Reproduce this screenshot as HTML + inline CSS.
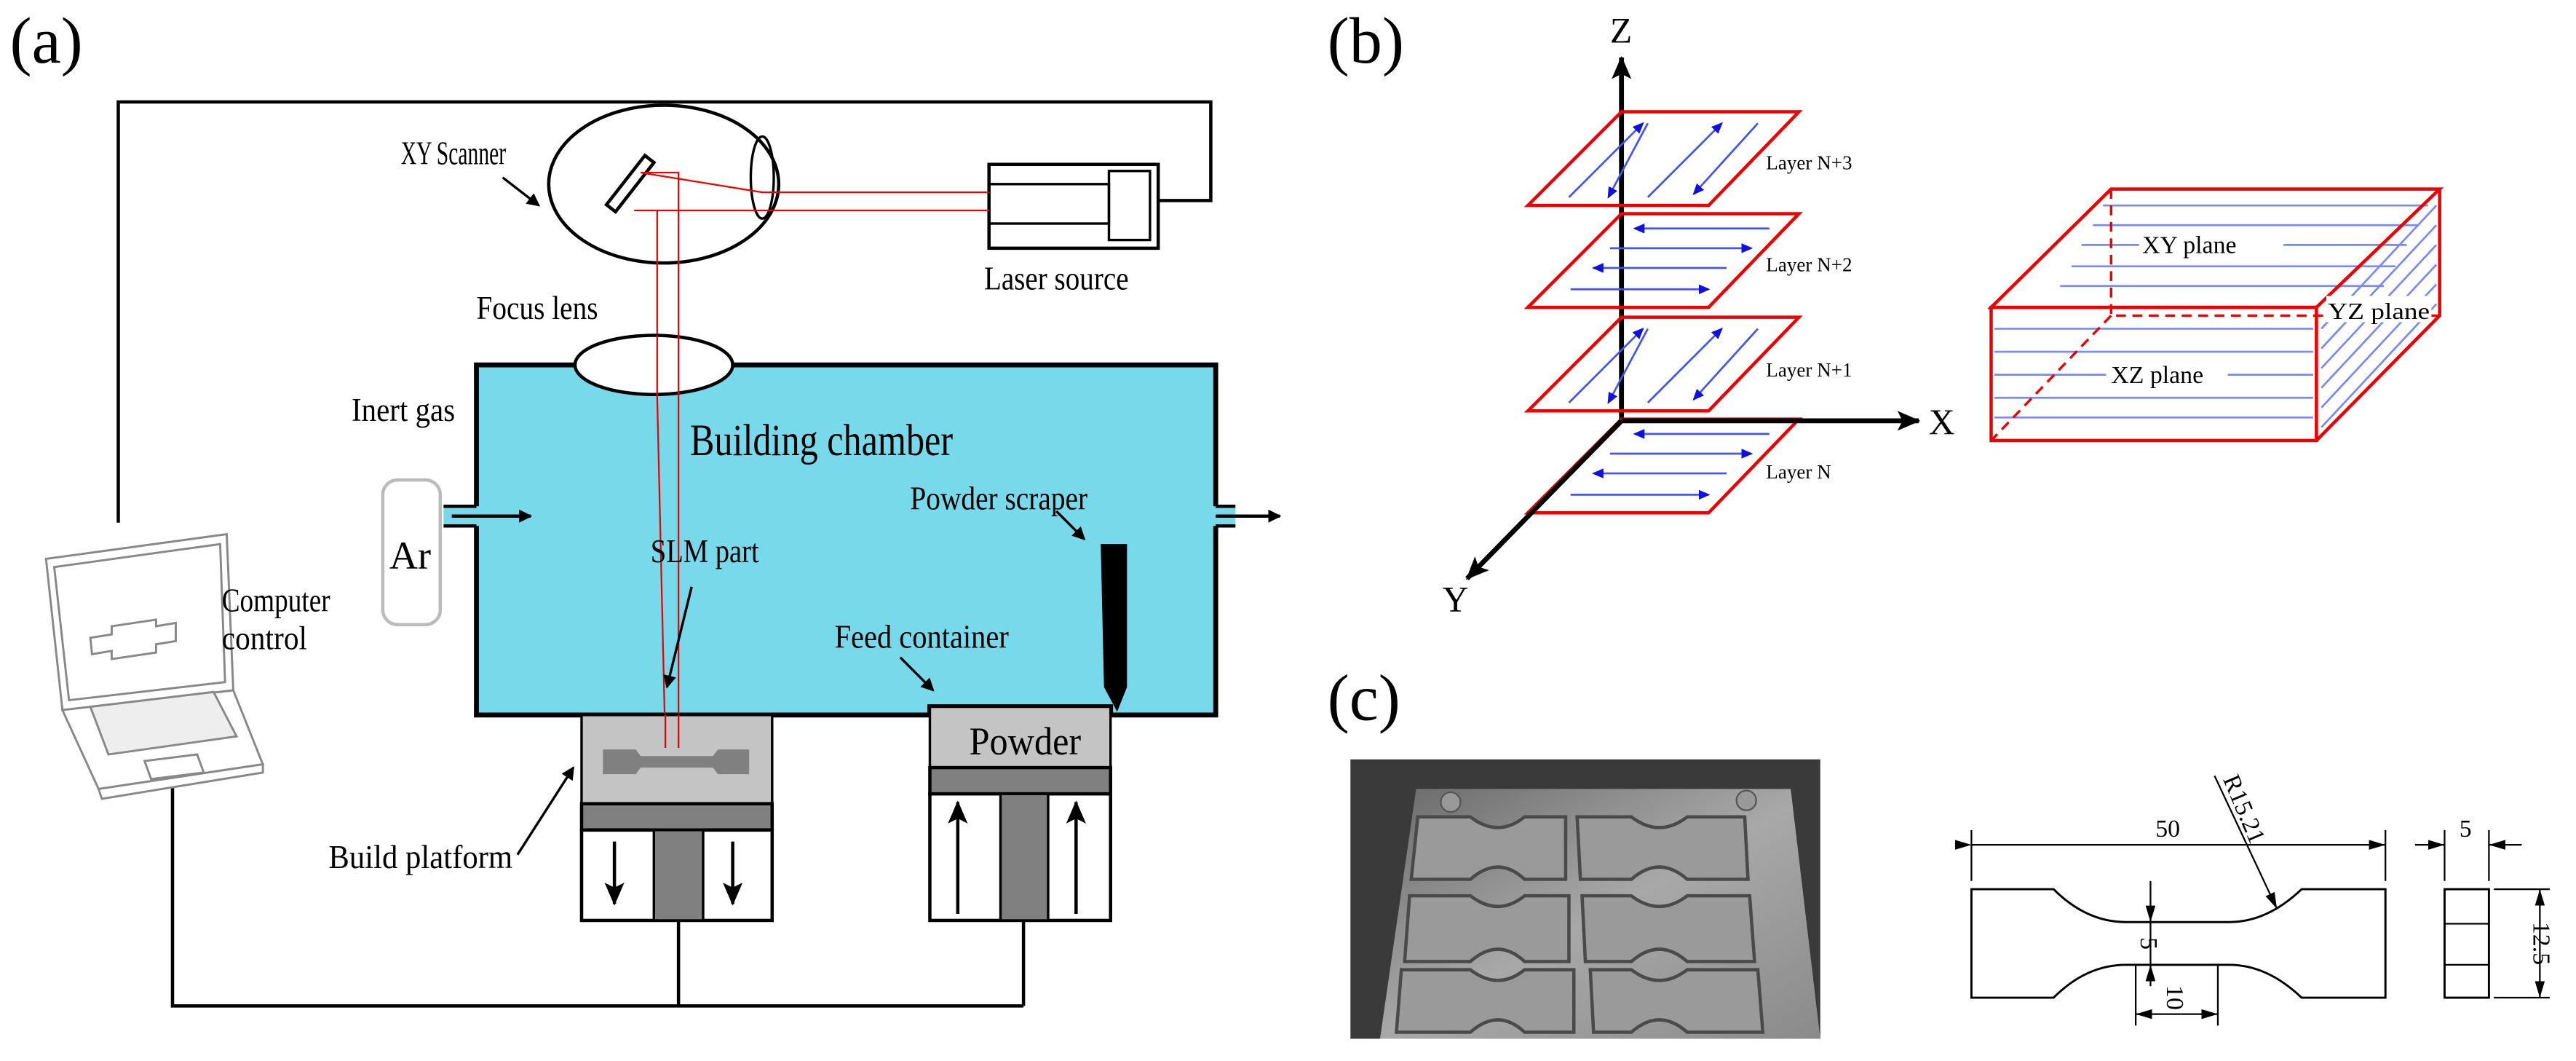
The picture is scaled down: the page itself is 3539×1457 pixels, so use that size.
<!DOCTYPE html>
<html><head><meta charset="utf-8"><style>
html,body{margin:0;padding:0;background:#fff;overflow:hidden}
svg{display:block}
text{font-family:"Liberation Serif",serif}
</style></head><body>
<svg width="3539" height="1457" viewBox="0 0 1568 645.5" xmlns="http://www.w3.org/2000/svg">
<defs>
<marker id="ab" markerWidth="8" markerHeight="8" refX="7" refY="4" orient="auto" markerUnits="userSpaceOnUse"><path d="M0,0 L8,4 L0,8 Z" fill="#000"/></marker>
<marker id="abl" markerWidth="14" markerHeight="12" refX="13" refY="6" orient="auto" markerUnits="userSpaceOnUse"><path d="M0,0 L14,6 L0,12 L3,6 Z" fill="#000"/></marker>
<marker id="bl" markerWidth="7" markerHeight="6" refX="6" refY="3" orient="auto" markerUnits="userSpaceOnUse"><path d="M0,0 L7,3 L0,6 Z" fill="#1010e0"/></marker>
<marker id="dm" markerWidth="10" markerHeight="6" refX="10" refY="3" orient="auto" markerUnits="userSpaceOnUse"><path d="M0,0 L10,3 L0,6 Z" fill="#000"/></marker>
<linearGradient id="ph" x1="0" y1="0" x2="1" y2="1"><stop offset="0" stop-color="#6a6a6a"/><stop offset="0.5" stop-color="#a8a8a8"/><stop offset="1" stop-color="#8a8a8a"/></linearGradient>
</defs>
<!-- (a) -->
<text x="6" y="38" font-size="40">(a)</text>
<polyline points="72,318 72,62 737,62 737,122 705,122" fill="none" stroke="#000" stroke-width="2"/>
<polyline points="105,445 105,612 623,612" fill="none" stroke="#000" stroke-width="2"/>
<line x1="413" y1="560" x2="413" y2="612" stroke="#000" stroke-width="2"/>
<line x1="623" y1="560" x2="623" y2="612" stroke="#000" stroke-width="2"/>
<ellipse cx="404" cy="112" rx="70" ry="48" fill="none" stroke="#000" stroke-width="2"/>
<rect x="380" y="93" width="7" height="38" fill="#fff" stroke="#000" stroke-width="2" transform="rotate(38 384 112)"/>
<ellipse cx="464" cy="108" rx="7" ry="25" fill="none" stroke="#000" stroke-width="1.5"/>
<rect x="602" y="100" width="103" height="51" fill="none" stroke="#000" stroke-width="2"/>
<rect x="602" y="112" width="73" height="24" fill="none" stroke="#000" stroke-width="1.5"/>
<rect x="675" y="104" width="25" height="42" fill="none" stroke="#000" stroke-width="1.5"/>
<g stroke="#e00" stroke-width="1" fill="none">
<polyline points="602,117 464,117 390,105 413,105 413,222"/>
<polyline points="602,128 464,128 386,128 400,128 400,222"/>
</g>
<text x="244" y="100" font-size="20" textLength="64" lengthAdjust="spacingAndGlyphs">XY Scanner</text>
<line x1="306" y1="108" x2="328" y2="125" stroke="#000" stroke-width="1.5" marker-end="url(#ab)"/>
<text x="599" y="176" font-size="20" textLength="88" lengthAdjust="spacingAndGlyphs">Laser source</text>
<text x="290" y="194" font-size="20" textLength="74" lengthAdjust="spacingAndGlyphs">Focus lens</text>
<path d="M290,222 L740,222 L740,435 L676,435 L676,430 L566,430 L566,435 L470,435 L354,435 L290,435 Z" fill="#77d9ea" stroke="#000" stroke-width="3"/>
<rect x="270" y="308" width="22" height="12" fill="#77d9ea"/>
<line x1="270" y1="308" x2="290" y2="308" stroke="#000" stroke-width="2"/>
<line x1="270" y1="320" x2="290" y2="320" stroke="#000" stroke-width="2"/>
<rect x="738" y="308" width="14" height="12" fill="#77d9ea"/>
<line x1="740" y1="308" x2="752" y2="308" stroke="#000" stroke-width="2"/>
<line x1="740" y1="320" x2="752" y2="320" stroke="#000" stroke-width="2"/>
<ellipse cx="398" cy="222" rx="48" ry="18" fill="#fff" stroke="#000" stroke-width="2"/>
<g stroke="#e00" stroke-width="1"><line x1="400" y1="204" x2="400" y2="240"/><line x1="413" y1="204" x2="413" y2="240"/>
<line x1="400" y1="240" x2="405" y2="454"/><line x1="413" y1="240" x2="413" y2="452"/></g>
<text x="420" y="277" font-size="27" textLength="160" lengthAdjust="spacingAndGlyphs">Building chamber</text>
<text x="214" y="256" font-size="20" textLength="63" lengthAdjust="spacingAndGlyphs">Inert gas</text>
<rect x="233" y="292" width="35" height="88" rx="9" fill="#fff" stroke="#bbb" stroke-width="2"/>
<text x="237" y="346" font-size="24">Ar</text>
<line x1="275" y1="314" x2="323" y2="314" stroke="#000" stroke-width="2" marker-end="url(#ab)"/>
<line x1="740" y1="314" x2="779" y2="314" stroke="#000" stroke-width="2" marker-end="url(#ab)"/>
<text x="554" y="310" font-size="20" textLength="108" lengthAdjust="spacingAndGlyphs">Powder scraper</text>
<line x1="643" y1="311" x2="660" y2="328" stroke="#000" stroke-width="1.5" marker-end="url(#ab)"/>
<path d="M670,331 L686,331 L686,418 L680,433 L672,418 Z" fill="#000"/>
<text x="396" y="342" font-size="20" textLength="66" lengthAdjust="spacingAndGlyphs">SLM part</text>
<line x1="421" y1="357" x2="406" y2="418" stroke="#000" stroke-width="1.5" marker-end="url(#ab)"/>
<text x="508" y="394" font-size="20" textLength="106" lengthAdjust="spacingAndGlyphs">Feed container</text>
<line x1="548" y1="400" x2="568" y2="420" stroke="#000" stroke-width="1.5" marker-end="url(#ab)"/>
<rect x="354" y="435" width="116" height="54" fill="#c4c4c4" stroke="#000" stroke-width="1.5"/>
<g stroke="#e00" stroke-width="1"><line x1="405" y1="435" x2="405" y2="455"/><line x1="413" y1="435" x2="413" y2="455"/></g>
<path d="M367,456 L387,456 L390,460 L434,460 L437,456 L456,456 L456,471 L437,471 L434,467 L390,467 L387,471 L367,471 Z" fill="#808080"/>
<rect x="354" y="489" width="116" height="16" fill="#808080" stroke="#000" stroke-width="2"/>
<rect x="354" y="505" width="116" height="55" fill="#fff" stroke="#000" stroke-width="2"/>
<rect x="398" y="505" width="30" height="55" fill="#808080" stroke="#000" stroke-width="1.5"/>
<line x1="374" y1="512" x2="374" y2="550" stroke="#000" stroke-width="2" marker-end="url(#abl)"/>
<line x1="446" y1="512" x2="446" y2="550" stroke="#000" stroke-width="2" marker-end="url(#abl)"/>
<text x="200" y="528" font-size="20" textLength="112" lengthAdjust="spacingAndGlyphs">Build platform</text>
<line x1="315" y1="520" x2="349" y2="467" stroke="#000" stroke-width="1.5" marker-end="url(#ab)"/>
<rect x="566" y="430" width="110" height="37" fill="#c4c4c4" stroke="#000" stroke-width="1.5"/>
<text x="590" y="459" font-size="24" textLength="68" lengthAdjust="spacingAndGlyphs">Powder</text>
<rect x="566" y="467" width="110" height="16" fill="#808080" stroke="#000" stroke-width="2"/>
<rect x="566" y="483" width="110" height="77" fill="#fff" stroke="#000" stroke-width="2"/>
<rect x="609" y="483" width="29" height="77" fill="#808080" stroke="#000" stroke-width="1.5"/>
<line x1="583" y1="556" x2="583" y2="488" stroke="#000" stroke-width="2" marker-end="url(#abl)"/>
<line x1="655" y1="556" x2="655" y2="488" stroke="#000" stroke-width="2" marker-end="url(#abl)"/>
<g fill="#fff" stroke="#888" stroke-width="1.3">
<path d="M28,340 L138,325 L142,420 L38,432 Z"/>
<path d="M33,345 L134,331 L137,415 L42,426 Z"/>
<path d="M38,432 L142,420 L160,465 L60,480 Z"/>
<path d="M60,480 L160,465 L160,470 L62,486 Z"/>
<path d="M55,430 L130,421 L144,448 L66,459 Z" fill="#eee"/>
<path d="M88,463 L120,459 L124,470 L92,474 Z"/>
<path d="M55,388 L68,386 L68,381 L95,377 L95,381 L107,379 L107,390 L95,392 L95,397 L68,401 L68,396 L56,398 Z"/>
</g>
<text x="135" y="372" font-size="20" textLength="66" lengthAdjust="spacingAndGlyphs">Computer</text>
<text x="135" y="395" font-size="20" textLength="52" lengthAdjust="spacingAndGlyphs">control</text>

<!-- (b) -->
<text x="808" y="38" font-size="40">(b)</text>
<text x="980" y="26" font-size="22">Z</text>
<line x1="987" y1="256" x2="987" y2="35" stroke="#000" stroke-width="3" marker-end="url(#abl)"/>
<g fill="none" stroke="#e00" stroke-width="2">
<polygon points="930,125 987,68 1095,68 1040,125"/>
<polygon points="930,187 987,130 1095,130 1040,187"/>
<polygon points="930,250 987,193 1095,193 1040,250"/>
<polygon points="930,312 987,255 1095,255 1040,312"/>
</g>
<line x1="987" y1="256" x2="1168" y2="256" stroke="#000" stroke-width="3" marker-end="url(#abl)"/>
<text x="1174" y="264" font-size="22">X</text>
<line x1="987" y1="256" x2="893" y2="352" stroke="#000" stroke-width="3" marker-end="url(#abl)"/>
<text x="878" y="372" font-size="22">Y</text>
<g stroke="#4455ee" stroke-width="1.2" fill="none">
<line x1="955" y1="120" x2="1000" y2="75" marker-end="url(#bl)"/>
<line x1="1003" y1="75" x2="979" y2="120" marker-end="url(#bl)"/>
<line x1="1003" y1="120" x2="1048" y2="75" marker-end="url(#bl)"/>
<line x1="1070" y1="75" x2="1031" y2="118" marker-end="url(#bl)"/>
<line x1="955" y1="245" x2="1000" y2="200" marker-end="url(#bl)"/>
<line x1="1003" y1="200" x2="979" y2="245" marker-end="url(#bl)"/>
<line x1="1003" y1="245" x2="1048" y2="200" marker-end="url(#bl)"/>
<line x1="1070" y1="200" x2="1031" y2="243" marker-end="url(#bl)"/>
<line x1="1077" y1="139" x2="995" y2="139" marker-end="url(#bl)"/>
<line x1="980" y1="151" x2="1066" y2="151" marker-end="url(#bl)"/>
<line x1="1051" y1="163" x2="970" y2="163" marker-end="url(#bl)"/>
<line x1="956" y1="176" x2="1040" y2="176" marker-end="url(#bl)"/>
<line x1="1077" y1="264" x2="995" y2="264" marker-end="url(#bl)"/>
<line x1="980" y1="276" x2="1066" y2="276" marker-end="url(#bl)"/>
<line x1="1051" y1="288" x2="970" y2="288" marker-end="url(#bl)"/>
<line x1="956" y1="301" x2="1040" y2="301" marker-end="url(#bl)"/>
</g>
<g font-size="12">
<text x="1075" y="103">Layer N+3</text>
<text x="1075" y="165">Layer N+2</text>
<text x="1075" y="229">Layer N+1</text>
<text x="1075" y="291">Layer N</text>
</g>
<g stroke="#7a8af0" stroke-width="1.2">
<line x1="1280" y1="125" x2="1478" y2="125"/>
<line x1="1274" y1="137" x2="1472" y2="137"/>
<line x1="1267" y1="149" x2="1302" y2="149"/><line x1="1390" y1="149" x2="1465" y2="149"/>
<line x1="1261" y1="162" x2="1458" y2="162"/>
<line x1="1254" y1="174" x2="1451" y2="174"/>
<line x1="1214" y1="200" x2="1408" y2="200"/>
<line x1="1214" y1="214" x2="1408" y2="214"/>
<line x1="1214" y1="228" x2="1282" y2="228"/><line x1="1356" y1="228" x2="1408" y2="228"/>
<line x1="1214" y1="242" x2="1408" y2="242"/>
<line x1="1214" y1="254" x2="1408" y2="254"/>
<line x1="1413" y1="200" x2="1483" y2="125"/>
<line x1="1413" y1="212" x2="1483" y2="137"/>
<line x1="1413" y1="224" x2="1483" y2="149"/>
<line x1="1413" y1="236" x2="1483" y2="161"/>
<line x1="1413" y1="248" x2="1483" y2="173"/>
<line x1="1413" y1="260" x2="1483" y2="185"/>
</g>
<g fill="none" stroke="#e00">
<polygon points="1212,187 1285,115 1485,115 1410,187" stroke-width="2"/>
<rect x="1212" y="187" width="198" height="81" stroke-width="2"/>
<polyline points="1410,268 1485,192 1485,115" stroke-width="2"/>
<polyline points="1285,115 1285,192 1485,192" stroke-width="1.5" stroke-dasharray="6,4"/>
<line x1="1285" y1="192" x2="1212" y2="268" stroke-width="1.5" stroke-dasharray="6,4"/>
</g>
<rect x="1416" y="180" width="64" height="16" fill="#fff"/>
<text x="1304" y="154" font-size="15">XY plane</text>
<text x="1417" y="194" font-size="14" textLength="62" lengthAdjust="spacingAndGlyphs">YZ plane</text>
<text x="1285" y="233" font-size="15">XZ plane</text>

<!-- (c) -->
<text x="808" y="438" font-size="40">(c)</text>
<rect x="822" y="462" width="286" height="170" fill="#3a3a3a"/>
<path d="M862,480 L1090,480 L1108,632 L840,632 Z" fill="url(#ph)"/>
<circle cx="883" cy="488" r="6" fill="#999" stroke="#555"/><circle cx="1063" cy="487" r="6" fill="#999" stroke="#555"/>
<g fill="#9a9a9a" stroke="#4a4a4a" stroke-width="2">
<path d="M863,497 L895,497 Q912,510 928,497 L953,497 L953,535 L928,535 Q912,520 895,535 L859,535 Z"/>
<path d="M858,545 L895,545 Q912,558 928,545 L955,545 L955,585 L928,585 Q912,570 895,585 L855,585 Z"/>
<path d="M853,590 L895,590 Q912,603 928,590 L958,590 L958,628 L928,628 Q912,613 895,628 L850,628 Z"/>
<path d="M960,497 L993,497 Q1010,510 1027,497 L1062,497 L1064,535 L1027,535 Q1010,520 993,535 L962,535 Z"/>
<path d="M963,545 L993,545 Q1010,558 1027,545 L1065,545 L1068,585 L1027,585 Q1010,570 993,585 L965,585 Z"/>
<path d="M968,590 L993,590 Q1010,603 1027,590 L1070,590 L1073,628 L1027,628 Q1010,613 993,628 L970,628 Z"/>
</g>
<g stroke="#000" stroke-width="1" fill="none">
<line x1="1200" y1="505" x2="1200" y2="536"/><line x1="1452" y1="505" x2="1452" y2="536"/>
<line x1="1200" y1="514" x2="1452" y2="514" marker-start="url(#dm)" marker-end="url(#dm)"/>
<path d="M1200,541 L1250,541 Q1270,561 1294,561 L1357,561 Q1380,561 1401,541 L1452,541 L1452,607 L1401,607 Q1380,587 1357,587 L1294,587 Q1270,587 1250,607 L1200,607 Z" stroke-width="1.3"/>
<line x1="1348" y1="472" x2="1386" y2="553" marker-end="url(#dm)"/>
<line x1="1309" y1="536" x2="1309" y2="561" marker-end="url(#dm)"/>
<line x1="1309" y1="600" x2="1309" y2="587" marker-end="url(#dm)"/>
<line x1="1309" y1="561" x2="1309" y2="587"/>
<line x1="1300" y1="587" x2="1300" y2="624"/><line x1="1350" y1="587" x2="1350" y2="624"/>
<line x1="1325" y1="617" x2="1300" y2="617" marker-end="url(#dm)"/>
<line x1="1325" y1="617" x2="1350" y2="617" marker-end="url(#dm)"/>
<rect x="1488" y="541" width="27" height="66" stroke-width="1.3"/>
<line x1="1488" y1="562" x2="1515" y2="562"/><line x1="1488" y1="587" x2="1515" y2="587"/>
<line x1="1488" y1="505" x2="1488" y2="536"/><line x1="1515" y1="505" x2="1515" y2="536"/>
<line x1="1470" y1="514" x2="1488" y2="514" marker-end="url(#dm)"/>
<line x1="1535" y1="514" x2="1515" y2="514" marker-end="url(#dm)"/>
<line x1="1518" y1="541" x2="1552" y2="541"/><line x1="1518" y1="607" x2="1552" y2="607"/>
<line x1="1546" y1="574" x2="1546" y2="541" marker-end="url(#dm)"/>
<line x1="1546" y1="574" x2="1546" y2="607" marker-end="url(#dm)"/>
</g>
<g font-size="15">
<text x="1312" y="509">50</text>
<text x="1497" y="509">5</text>
<text transform="translate(1353,474) rotate(67)">R15.21</text>
<text transform="translate(1303,574) rotate(90)" text-anchor="middle">5</text>
<text transform="translate(1319,607) rotate(90)" text-anchor="middle">10</text>
<text transform="translate(1542,574) rotate(90)" text-anchor="middle">12.5</text>
</g>
</svg>
</body></html>
